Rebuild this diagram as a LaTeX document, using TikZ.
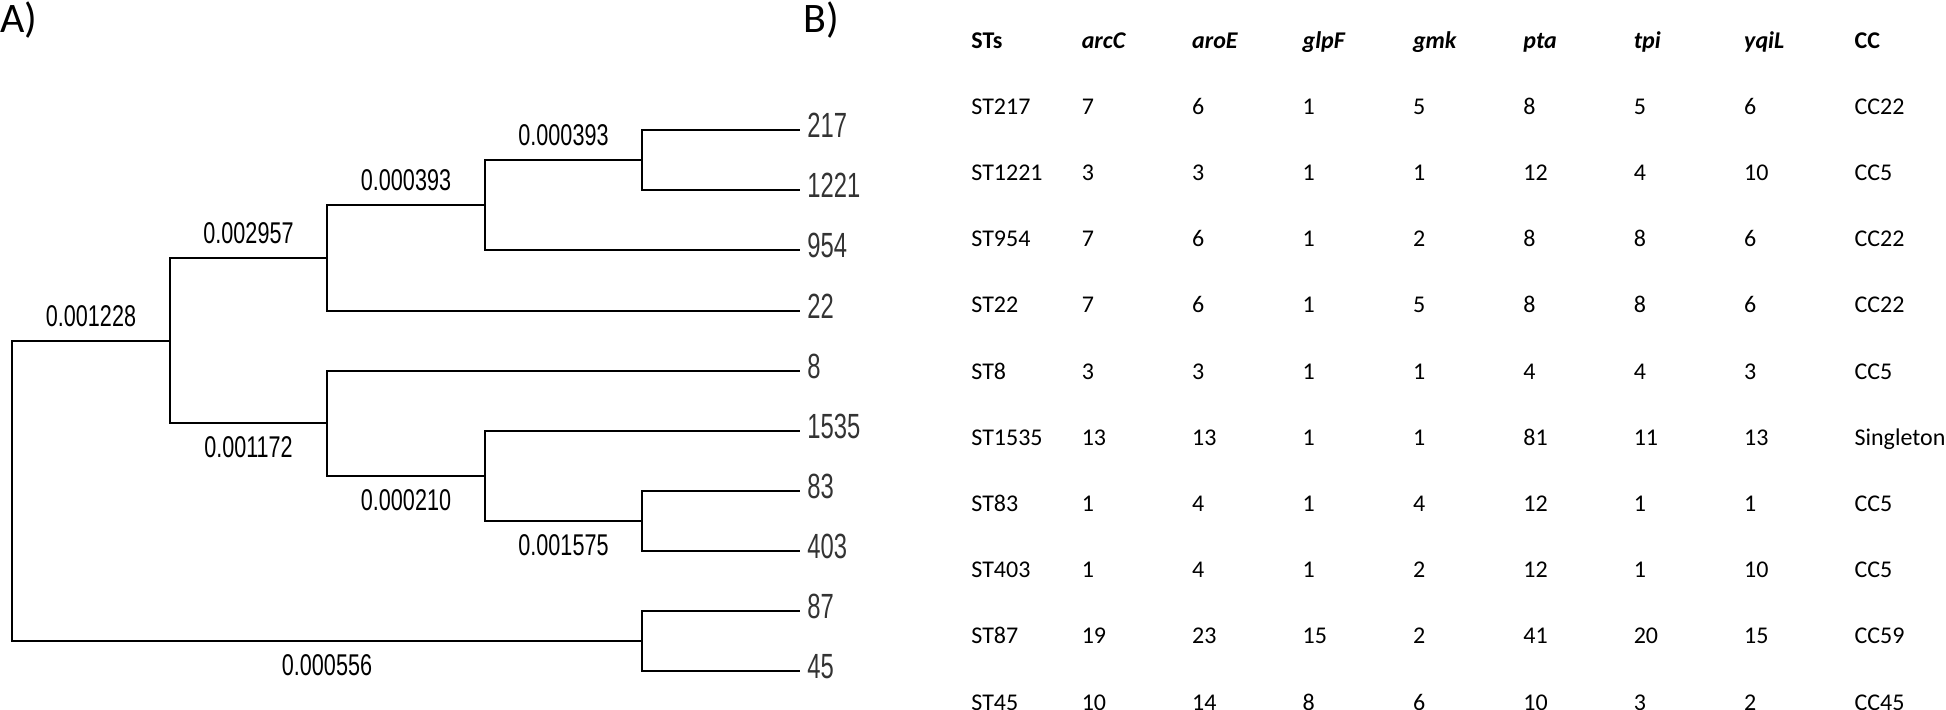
\documentclass[tikz,border=0pt]{standalone}
\usepackage{fontspec}
\setmainfont{Carlito}
\newfontfamily\treefont[FakeStretch=0.72]{Liberation Sans}
\newfontfamily\leaffont[FakeStretch=0.68]{Liberation Sans}
\usetikzlibrary{matrix}

\begin{document}
\begin{tikzpicture}[
  x=0.5pt, y=-0.5pt,
  panel/.style={anchor=base west, inner sep=0pt, font=\fontsize{21}{24}\selectfont},
  branch/.style={line width=1pt},
  blen/.style={inner sep=0pt, font=\treefont\fontsize{15}{18}\selectfont},
  leaf/.style={anchor=west, inner xsep=3.5pt, inner ysep=0pt, text height=12.6pt,
               text depth=5.6pt, font=\leaffont\fontsize{17.5}{20}\selectfont, text=black!80},
  cell/.style={inner sep=0pt, text width=55.2pt, align=left, text height=7.7pt,
               text depth=0pt, font=\fontsize{12}{14}\selectfont},
]
  \useasboundingbox (0,0) rectangle (1946,709);

  \node[panel] (pA) at (0,32) {A)};
  \node[panel] (pB) at (803,32) {B)};

  % dendrogram
  \coordinate (root) at (12,491);
  \coordinate (nA) at (170,341);
  \coordinate (nB) at (327,258);
  \coordinate (nC) at (485,205);
  \coordinate (nD) at (642,160);
  \coordinate (nE) at (327,423);
  \coordinate (nF) at (485,476);
  \coordinate (nG) at (642,521);
  \coordinate (nH) at (642,641);

  \node[leaf] (st217) at (800,130) {217};
  \node[leaf] (st1221) at (800,190) {1221};
  \node[leaf] (st954) at (800,250) {954};
  \node[leaf] (st22) at (800,311) {22};
  \node[leaf] (st8) at (800,371) {8};
  \node[leaf] (st1535) at (800,431) {1535};
  \node[leaf] (st83) at (800,491) {83};
  \node[leaf] (st403) at (800,551) {403};
  \node[leaf] (st87) at (800,611) {87};
  \node[leaf] (st45) at (800,671) {45};

  \draw[branch] (root) |- node[blen, above=6.5pt, pos=0.75] (bA) {0.001228} (nA);
  \draw[branch] (root) |- node[blen, below=6.5pt, pos=0.75] (bH) {0.000556} (nH);
  \draw[branch] (nA) |- node[blen, above=6.5pt, pos=0.75] (bB) {0.002957} (nB);
  \draw[branch] (nA) |- node[blen, below=6.5pt, pos=0.75] (bE) {0.001172} (nE);
  \draw[branch] (nB) |- node[blen, above=6.5pt, pos=0.75] (bC) {0.000393} (nC);
  \draw[branch] (nB) |- (st22);
  \draw[branch] (nC) |- node[blen, above=6.5pt, pos=0.75] (bD) {0.000393} (nD);
  \draw[branch] (nC) |- (st954);
  \draw[branch] (nD) |- (st217);
  \draw[branch] (nD) |- (st1221);
  \draw[branch] (nE) |- (st8);
  \draw[branch] (nE) |- node[blen, below=6.5pt, pos=0.75] (bF) {0.000210} (nF);
  \draw[branch] (nF) |- (st1535);
  \draw[branch] (nF) |- node[blen, below=6.5pt, pos=0.75] (bG) {0.001575} (nG);
  \draw[branch] (nG) |- (st83);
  \draw[branch] (nG) |- (st403);
  \draw[branch] (nH) |- (st87);
  \draw[branch] (nH) |- (st45);

  % MLST profiles
  \matrix[matrix of nodes, anchor=north west, inner sep=0pt, column sep=0pt, row sep=25.4pt,
          nodes={cell}, row 1/.style={nodes={font=\fontsize{12}{14}\selectfont\bfseries}}]
    (mlst) at (971,32.3) {
    STs & \textit{arcC} & \textit{aroE} & \textit{glpF} & \textit{gmk} & \textit{pta} & \textit{tpi} & \textit{yqiL} & CC \\
    ST217 & 7 & 6 & 1 & 5 & 8 & 5 & 6 & CC22 \\
    ST1221 & 3 & 3 & 1 & 1 & 12 & 4 & 10 & CC5 \\
    ST954 & 7 & 6 & 1 & 2 & 8 & 8 & 6 & CC22 \\
    ST22 & 7 & 6 & 1 & 5 & 8 & 8 & 6 & CC22 \\
    ST8 & 3 & 3 & 1 & 1 & 4 & 4 & 3 & CC5 \\
    ST1535 & 13 & 13 & 1 & 1 & 81 & 11 & 13 & Singleton \\
    ST83 & 1 & 4 & 1 & 4 & 12 & 1 & 1 & CC5 \\
    ST403 & 1 & 4 & 1 & 2 & 12 & 1 & 10 & CC5 \\
    ST87 & 19 & 23 & 15 & 2 & 41 & 20 & 15 & CC59 \\
    ST45 & 10 & 14 & 8 & 6 & 10 & 3 & 2 & CC45 \\
  };
\end{tikzpicture}
\end{document}
